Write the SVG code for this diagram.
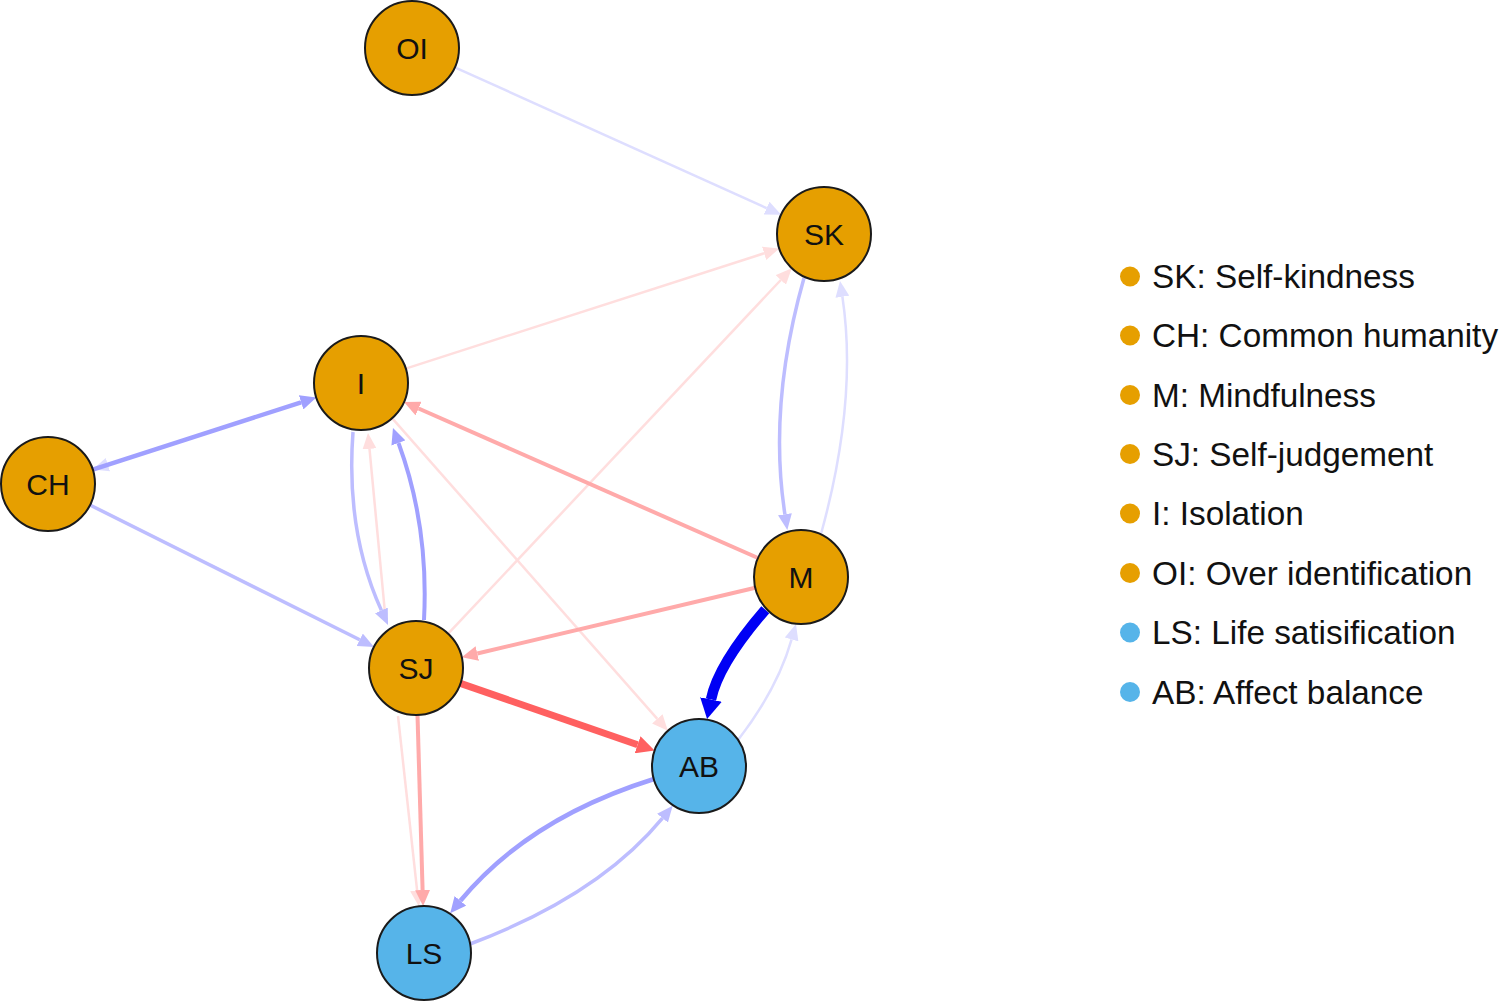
<svg xmlns="http://www.w3.org/2000/svg" width="1500" height="1002" viewBox="0 0 1500 1002">
<style>
.nd{stroke:#1a1a1a;stroke-width:2}
.or{fill:#E69F00}
.bl{fill:#56B4E9}
.lb{font-family:"Liberation Sans",Arial,sans-serif;font-size:30px;fill:#111;text-anchor:middle}
.lg{font-family:"Liberation Sans",Arial,sans-serif;font-size:33.3px;fill:#111}
.e{fill:none;stroke-linecap:butt}
.b0{stroke:#dedeff;stroke-width:2.5}
.b1{stroke:#bdbdff;stroke-width:3.5}
.b2{stroke:#a0a0ff;stroke-width:4.5}
.b3{stroke:#0000f5;stroke-width:10.5}
.p0{stroke:#ffdede;stroke-width:2.5}
.p1{stroke:#ffaaaa;stroke-width:4}
.p2{stroke:#ff6060;stroke-width:7}
</style>
<defs>
<marker id="aB0" markerUnits="userSpaceOnUse" viewBox="0 -7 16 14" refX="0" refY="0" markerWidth="16" markerHeight="14" orient="auto"><path d="M0,-7 L16,0 L0,7 z" fill="#dedeff"/></marker>
<marker id="aB1" markerUnits="userSpaceOnUse" viewBox="0 -7 16 14" refX="0" refY="0" markerWidth="16" markerHeight="14" orient="auto"><path d="M0,-7 L16,0 L0,7 z" fill="#bdbdff"/></marker>
<marker id="aB2" markerUnits="userSpaceOnUse" viewBox="0 -7.5 16 15" refX="0" refY="0" markerWidth="16" markerHeight="15" orient="auto"><path d="M0,-7.5 L16,0 L0,7.5 z" fill="#a0a0ff"/></marker>
<marker id="aB3" markerUnits="userSpaceOnUse" viewBox="0 -11 20 22" refX="0" refY="0" markerWidth="20" markerHeight="22" orient="auto"><path d="M0,-11 L20,0 L0,11 z" fill="#0000f5"/></marker>
<marker id="aP0" markerUnits="userSpaceOnUse" viewBox="0 -7 16 14" refX="0" refY="0" markerWidth="16" markerHeight="14" orient="auto"><path d="M0,-7 L16,0 L0,7 z" fill="#ffdede"/></marker>
<marker id="aP1" markerUnits="userSpaceOnUse" viewBox="0 -7.5 16 15" refX="0" refY="0" markerWidth="16" markerHeight="15" orient="auto"><path d="M0,-7.5 L16,0 L0,7.5 z" fill="#ffaaaa"/></marker>
<marker id="aP2" markerUnits="userSpaceOnUse" viewBox="0 -9 18 18" refX="0" refY="0" markerWidth="18" markerHeight="18" orient="auto"><path d="M0,-9 L18,0 L0,9 z" fill="#ff6060"/></marker>
</defs>
<rect width="1500" height="1002" fill="#ffffff"/>
<g id="edges">
<path id="e-OI-SK" class="e b0" d="M454.8,67.3 L766.6,208.1" marker-end="url(#aB0)"/>
<path id="e-I-SK" class="e p0" d="M405.7,368.6 L764.1,253.3" marker-end="url(#aP0)"/>
<path id="e-SJ-SK" class="e p0" d="M448.2,633.7 L780.8,280.0" marker-end="url(#aP0)"/>
<path id="e-I-AB" class="e p0" d="M392.1,418.2 L657.3,718.8" marker-end="url(#aP0)"/>
<path id="e-SJ-I-p" class="e p0" d="M385,613 L369.5,448.9" marker-end="url(#aP0)"/>
<path id="e-SJ-LS-p0" class="e p0" d="M398,716 L417.1,890.4" marker-end="url(#aP0)"/>
<path id="e-M-SK" class="e b0" d="M821,534 Q858,400 842.4,296.8" marker-end="url(#aB0)"/>
<path id="e-AB-M" class="e b0" d="M738,740 Q777.5,689 791.6,639.4" marker-end="url(#aB0)"/>
<path id="e-I-CH" class="e b0" d="M316.3,397.4 L107.9,464.7" marker-end="url(#aB0)"/>
<path id="e-SK-M" class="e b1" d="M804,278 Q768,405 784.9,514.2" marker-end="url(#aB1)"/>
<path id="e-CH-SJ" class="e b1" d="M90,505 L359.7,639.8" marker-end="url(#aB1)"/>
<path id="e-I-SJ" class="e b1" d="M353,432 Q345.5,531.5 381.4,610.4" marker-end="url(#aB1)"/>
<path id="e-LS-AB" class="e b1" d="M470,944 Q598.5,895.7 662.5,818.1" marker-end="url(#aB1)"/>
<path id="e-M-I" class="e p1" d="M758,558 L418.6,408.5" marker-end="url(#aP1)"/>
<path id="e-M-SJ" class="e p1" d="M755.3,587.8 L477.3,653.5" marker-end="url(#aP1)"/>
<path id="e-SJ-LS" class="e p1" d="M417.5,715 L422.6,890" marker-end="url(#aP1)"/>
<path id="e-CH-I" class="e b2" d="M92.7,469.6 L301.1,402.3" marker-end="url(#aB2)"/>
<path id="e-SJ-I" class="e b2" style="stroke-width:4" d="M424,620 Q429,526 398.5,443" marker-end="url(#aB2)"/>
<path id="e-AB-LS" class="e b2" d="M654,779 Q528.5,818.3 460.4,900.8" marker-end="url(#aB2)"/>
<path id="e-SJ-AB" class="e p2" d="M460.4,683.4 L637.6,744.7" marker-end="url(#aP2)"/>
<path id="e-M-AB" class="e b3" d="M765.3,609.7 Q718,664.5 711,699.5" marker-end="url(#aB3)"/>
</g>
<g id="node-OI"><circle class="nd or" cx="412" cy="48" r="47"/><text class="lb" x="412" y="58.5">OI</text></g>
<g id="node-SK"><circle class="nd or" cx="824" cy="234" r="47"/><text class="lb" x="824" y="244.5">SK</text></g>
<g id="node-I"><circle class="nd or" cx="361" cy="383" r="47"/><text class="lb" x="361" y="393.5">I</text></g>
<g id="node-CH"><circle class="nd or" cx="48" cy="484" r="47"/><text class="lb" x="48" y="494.5">CH</text></g>
<g id="node-M"><circle class="nd or" cx="801" cy="577" r="47"/><text class="lb" x="801" y="587.5">M</text></g>
<g id="node-SJ"><circle class="nd or" cx="416" cy="668" r="47"/><text class="lb" x="416" y="678.5">SJ</text></g>
<g id="node-AB"><circle class="nd bl" cx="699" cy="766" r="47"/><text class="lb" x="699" y="776.5">AB</text></g>
<g id="node-LS"><circle class="nd bl" cx="424" cy="953" r="47"/><text class="lb" x="424" y="963.5">LS</text></g>
<g id="legend">
<circle class="or" cx="1130" cy="276.5" r="10"/><text class="lg" x="1152" y="288">SK: Self-kindness</text>
<circle class="or" cx="1130" cy="335.5" r="10"/><text class="lg" x="1152" y="347">CH: Common humanity</text>
<circle class="or" cx="1130" cy="395" r="10"/><text class="lg" x="1152" y="406.5">M: Mindfulness</text>
<circle class="or" cx="1130" cy="454" r="10"/><text class="lg" x="1152" y="465.5">SJ: Self-judgement</text>
<circle class="or" cx="1130" cy="513.5" r="10"/><text class="lg" x="1152" y="525">I: Isolation</text>
<circle class="or" cx="1130" cy="573" r="10"/><text class="lg" x="1152" y="584.5">OI: Over identification</text>
<circle class="bl" cx="1130" cy="632.5" r="10"/><text class="lg" x="1152" y="644">LS: Life satisification</text>
<circle class="bl" cx="1130" cy="692" r="10"/><text class="lg" x="1152" y="703.5">AB: Affect balance</text>
</g>
</svg>
